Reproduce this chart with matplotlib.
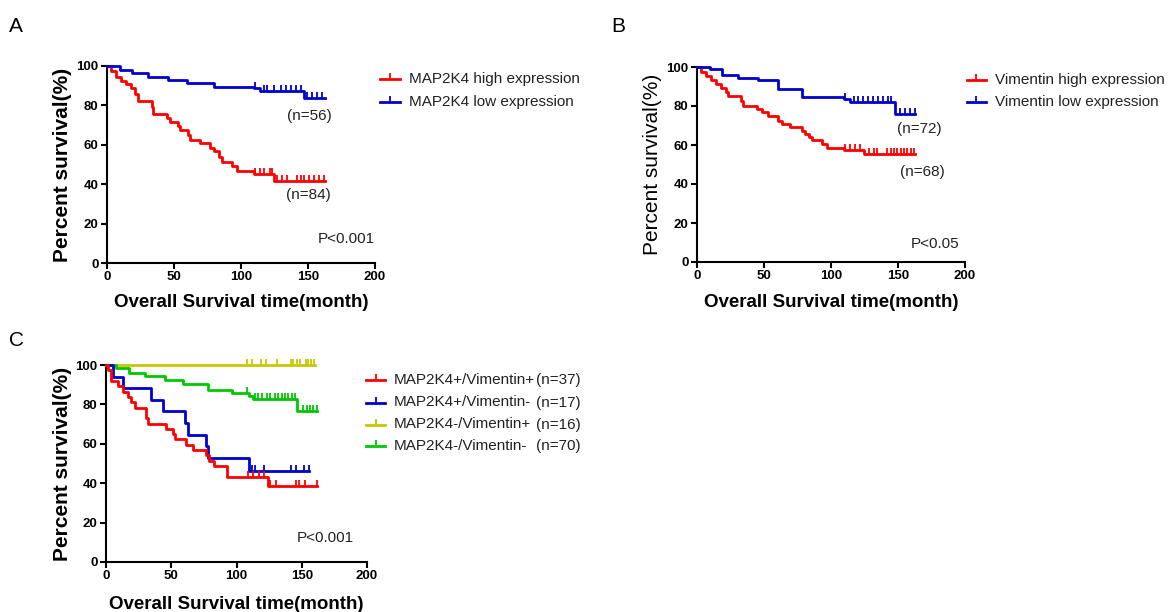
import numpy as np
import matplotlib
matplotlib.use("Agg")
import matplotlib.pyplot as plt
from matplotlib.lines import Line2D

plt.rcParams['font.family'] = ['Liberation Sans', 'DejaVu Sans']

# ---------------- data ----------------
# Panel A: MAP2K4
a_high_t = [3.25, 7, 10.75, 14.5, 18.25, 20.75, 23.25, 33.25, 34.5, 44.5, 47, 53.25, 54.5,
            60.75, 62, 69.5, 77, 79.5, 83.25, 85.75, 93.25, 97, 109.5, 124.5]
a_high_s = [97.5, 94.6, 92.4, 90.7, 88.7, 85.6, 82.3, 79.4, 75.5, 73.5, 71.8, 69.3, 67.6,
            65.0, 62.5, 60.8, 58.3, 56.6, 54.0, 51.5, 49.0, 46.5, 45.1, 41.7]
a_high_c = [110.75, 114.5, 117, 122, 123.25, 127, 130.75, 134.5, 142, 144.5, 147, 150.75,
            154.5, 158.25, 162]
a_high_end = 163

a_low_t = [9.5, 18.75, 30.75, 45.75, 59.5, 79.5, 109.5, 114.5, 147]
a_low_s = [98.2, 96.4, 94.6, 92.9, 91.5, 89.5, 88.7, 87.3, 83.6]
a_low_c = [110.75, 117, 119.5, 124.5, 129.5, 133.25, 137, 140.75, 144.5, 149.5, 153.25,
           157, 160.75]
a_low_end = 163

# Panel B: Vimentin
b_high_t = [3.25, 7, 10.75, 14.5, 18.25, 21.5, 23.25, 32.5, 34.5, 44.5, 48.25, 53.25,
            60.75, 63.25, 69.5, 78.25, 80.75, 83.25, 85.75, 93.25, 97, 109.5, 124.5]
b_high_s = [97.6, 95.4, 93.2, 91.5, 89.4, 87.4, 85.2, 82.6, 80.1, 78.4, 76.7, 75.0,
            72.5, 70.8, 69.1, 67.3, 65.6, 63.9, 62.5, 60.5, 58.4, 57.4, 55.4]
b_high_c = [110.75, 114.5, 118.25, 122, 128.25, 132, 134.5, 142, 144.5, 147, 149.5, 152,
            154.5, 157, 159.5, 162]
b_high_end = 163

b_low_t = [9.5, 18.75, 30.75, 45.75, 60.75, 78.25, 109.5, 114.5, 147.5]
b_low_s = [98.8, 95.9, 94.5, 93.2, 88.9, 84.8, 83.8, 82.1, 76.1]
b_low_c = [110.75, 117.5, 120, 123.75, 127.5, 131.25, 135, 138.75, 142.5, 145,
           151.25, 155, 158.75, 162.5]
b_low_end = 163

# Panel C: combined groups
c_pp_t = [1.5, 3.5, 9.5, 13, 17, 19.5, 22, 31, 32, 46, 51, 53, 61, 67, 77, 79, 83, 92.5, 124.5]
c_pp_s = [97.3, 91.9, 89.2, 86.5, 83.8, 81.1, 78.4, 73.0, 70.3, 67.6, 64.9, 62.2, 59.5,
          56.8, 54.1, 51.4, 48.6, 43.2, 38.6]
c_pp_c = [109, 113, 117, 121, 126, 130, 145.4, 148, 152.4, 162]
c_pp_end = 162

c_pm_t = [5.6, 13.3, 34.5, 43.4, 60.8, 62.6, 76.6, 77.9, 109.2]
c_pm_s = [94.1, 88.2, 82.4, 76.5, 70.6, 64.7, 58.8, 52.9, 46.3]
c_pm_c = [112, 114.5, 121, 141.6, 145.4, 151.9, 155.5]
c_pm_end = 155.7

c_mp_t = []
c_mp_s = []
c_mp_c = [108.3, 111.6, 118.5, 122.6, 131.3, 141.5, 143.6, 146.6, 148.7, 153.3, 155.1,
          156.9, 159.4]
c_mp_end = 160

c_mm_t = [7.6, 17.9, 30.1, 45.4, 58.7, 77.9, 96.3, 109.8, 112.9, 146.6]
c_mm_s = [98.6, 95.9, 94.2, 92.5, 90.3, 87.2, 85.8, 84.4, 82.9, 76.8]
c_mm_c = [107.8, 114.2, 116.7, 119.3, 123.1, 125.7, 129.5, 132.1, 134.6, 137.2, 139.7,
          142.3, 144.8, 151.2, 153.7, 156.3, 158.9, 161.4]
c_mm_end = 162

a_labels = ["MAP2K4 high expression", "MAP2K4 low expression"]
b_labels = ["Vimentin high expression", "Vimentin low expression"]
c_labels = ["MAP2K4+/Vimentin+", "MAP2K4+/Vimentin-", "MAP2K4-/Vimentin+", "MAP2K4-/Vimentin-"]
c_ns = ["(n=37)", "(n=17)", "(n=16)", "(n=70)"]
a_ns = ["(n=84)", "(n=56)"]
b_ns = ["(n=68)", "(n=72)"]
a_p = "P<0.001"
b_p = "P<0.05"
c_p = "P<0.001"
x_ticks = [0, 50, 100, 150, 200]
y_ticks = [0, 20, 40, 60, 80, 100]

RED = "#ff0000"
BLUE = "#0000cc"
YEL = "#c8c800"
GRN = "#00c800"

W, H = 1173, 612
fig = plt.figure(figsize=(W / 100, H / 100), dpi=100)


def px_axes(l, t, r, b):
    return fig.add_axes([l / W, 1 - b / H, (r - l) / W, (b - t) / H])


def km(ax, t, s, c, end, color):
    xs = [0] + list(t) + [end]
    ys = [100] + list(s) + [s[-1] if s else 100]
    ax.step(xs, ys, where='post', color=color, lw=2.0, clip_on=False, zorder=3)
    tt = np.array([0] + list(t))
    ss = np.array([100] + list(s))
    idx = np.searchsorted(tt, np.array(c), side='right') - 1
    ax.plot(c, ss[idx], linestyle='none', marker=2, markersize=4.5, mew=1.3,
            color=color, clip_on=False, zorder=3)


def style(ax, bold_ylabel=True, ylab_x=-0.131, xlab_y=-0.158):
    ax.set_xlim(0, 200)
    ax.set_ylim(0, 100)
    ax.set_xticks(x_ticks)
    ax.set_yticks(y_ticks)
    for sp in ['top', 'right']:
        ax.spines[sp].set_visible(False)
    for sp in ['left', 'bottom']:
        ax.spines[sp].set_linewidth(1.5)
    ax.tick_params(direction='out', length=4, width=1.5, labelsize=9.5, pad=2)
    for lab in ax.get_xticklabels() + ax.get_yticklabels():
        lab.set_fontweight('bold')
    ax.set_xlabel("Overall Survival time(month)", fontsize=13.5, fontweight='bold')
    ax.set_ylabel("Percent survival(%)", fontsize=15,
                  fontweight='bold' if bold_ylabel else 'normal')
    ax.yaxis.set_label_coords(ylab_x, 0.5)
    ax.xaxis.set_label_coords(0.5, xlab_y)


def legend_rows(x0, x1, xt, ys, colors, labels, fs=11):
    for y, col, lab in zip(ys, colors, labels):
        fig.add_artist(Line2D([x0 / W, x1 / W], [1 - y / H, 1 - y / H], color=col, lw=2.0))
        fig.add_artist(Line2D([(x0 + x1) / 2 / W], [1 - y / H], color=col, marker=2,
                              markersize=4.5, mew=1.3, linestyle='none'))
        fig.text(xt / W, 1 - y / H, lab, fontsize=fs, va='center', ha='left', color='#222222')


# ---------- Panel A ----------
axA = px_axes(107, 66, 375, 263)
km(axA, a_high_t, a_high_s, a_high_c, a_high_end, RED)
km(axA, a_low_t, a_low_s, a_low_c, a_low_end, BLUE)
style(axA, True, -0.131, -0.158)
axA.text(133.5, 34.5, a_ns[0], fontsize=11, va='center', color='#222222')
axA.text(134, 74.6, a_ns[1], fontsize=11, va='center', color='#222222')
axA.text(157.5, 12.2, a_p, fontsize=11, va='center', color='#222222')
legend_rows(380, 400, 409, [79, 102], [RED, BLUE], a_labels)

# ---------- Panel B ----------
axB = px_axes(697, 67, 965, 262)
km(axB, b_high_t, b_high_s, b_high_c, b_high_end, RED)
km(axB, b_low_t, b_low_s, b_low_c, b_low_end, BLUE)
style(axB, False, -0.131, -0.165)
axB.text(151.5, 46.3, b_ns[0], fontsize=11, va='center', color='#222222')
axB.text(149, 68.2, b_ns[1], fontsize=11, va='center', color='#222222')
axB.text(159.7, 9.2, b_p, fontsize=11, va='center', color='#222222')
legend_rows(967, 986, 995, [80, 102], [RED, BLUE], b_labels)

# ---------- Panel C ----------
axC = px_axes(106, 365, 367, 562)
km(axC, c_mp_t, c_mp_s, c_mp_c, c_mp_end, YEL)
km(axC, c_mm_t, c_mm_s, c_mm_c, c_mm_end, GRN)
km(axC, c_pm_t, c_pm_s, c_pm_c, c_pm_end, BLUE)
km(axC, c_pp_t, c_pp_s, c_pp_c, c_pp_end, RED)
style(axC, True, -0.13, -0.172)
axC.text(146, 12.4, c_p, fontsize=11, va='center', color='#222222')
rows_c = [380, 402.5, 424.5, 446]
legend_rows(366, 385, 394, rows_c, [RED, BLUE, YEL, GRN], c_labels)
for y, n in zip(rows_c, c_ns):
    fig.text(536 / W, 1 - y / H, n, fontsize=11, va='center', ha='left', color='#222222')

# panel letters
fig.text(9 / W, 1 - 27 / H, "A", fontsize=15, va='center', ha='left')
fig.text(611 / W, 1 - 27 / H, "B", fontsize=15, va='center', ha='left')
fig.text(9 / W, 1 - 340 / H, "C", fontsize=15, va='center', ha='left')

fig.savefig("out.png", dpi=100)
